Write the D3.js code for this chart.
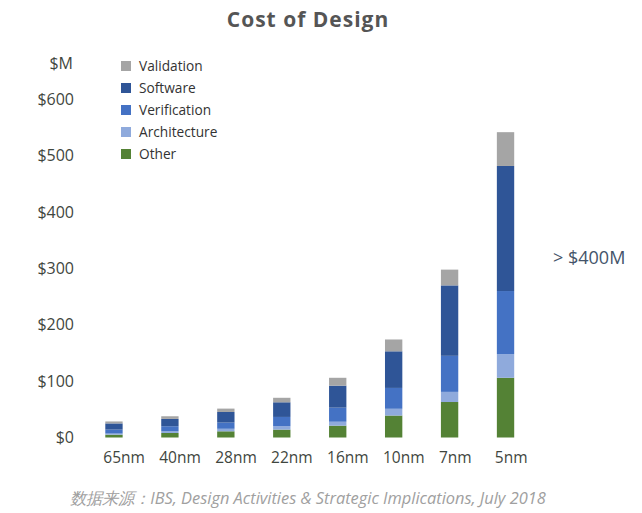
<!DOCTYPE html>
<html>
<head>
<meta charset="utf-8">
<script src="https://cdn.jsdelivr.net/npm/d3@7"></script>
<style>
  body { margin: 0; background: #fff; }
  svg text { font-family: "Open Sans", "Noto Sans", sans-serif; }
</style>
</head>
<body>
<svg id="chart" width="642" height="513"></svg>
<script>
// data ($M per node)
var nodes = ["65nm", "40nm", "28nm", "22nm", "16nm", "10nm", "7nm", "5nm"];
var other        = [5,   8,   11,   14,   21,  39,  63,  106];
var architecture = [2,   3,   4.5,  6,    7,   12,  18,  42];
var verification = [7,   9,   11,   16.5, 25,  37,  64,  112];
var software     = [11,  13,  18.8, 26,   39,  65,  125, 222];
var validation   = [3.5, 4.7, 6,    8,    14,  21,  28,  60];
var yTicks = [0, 100, 200, 300, 400, 500, 600];

var keys = ["Other", "Architecture", "Verification", "Software", "Validation"];
var colors = {
  "Other": "#548235",
  "Architecture": "#8faadc",
  "Verification": "#4472c4",
  "Software": "#2f5597",
  "Validation": "#a5a5a5"
};

var rows = nodes.map((n, i) => ({
  node: n,
  "Other": other[i],
  "Architecture": architecture[i],
  "Verification": verification[i],
  "Software": software[i],
  "Validation": validation[i]
}));

var svg = d3.select("#chart");

var x = d3.scaleBand()
  .domain(nodes)
  .range([86, 533.5])
  .paddingInner(0.69)
  .paddingOuter(0.345);

var y = d3.scaleLinear()
  .domain([0, 600])
  .range([437.5, 99.5]);

var stacked = d3.stack().keys(keys)(rows);

svg.append("g")
  .selectAll("g")
  .data(stacked)
  .enter()
  .append("g")
  .attr("fill", d => colors[d.key])
  .selectAll("rect")
  .data(d => d)
  .enter()
  .append("rect")
  .attr("x", d => x(d.data.node))
  .attr("width", x.bandwidth())
  .attr("y", d => y(d[1]))
  .attr("height", d => y(d[0]) - y(d[1]));

// y axis, labels only
var yAxis = svg.append("g")
  .attr("transform", "translate(74,0)")
  .call(d3.axisLeft(y).tickValues(yTicks).tickSize(0).tickPadding(0).tickFormat(d => "$" + d));
yAxis.select(".domain").remove();
yAxis.selectAll("text")
  .attr("font-size", 16)
  .attr("fill", "#3f463e")
  .style("font-family", "'Open Sans', sans-serif");

svg.append("text")
  .attr("x", 73).attr("y", 69)
  .attr("text-anchor", "end")
  .attr("font-size", 16)
  .attr("fill", "#3f463e")
  .text("$M");

// x axis, labels only; they sit from the bar's left edge
var xAxis = svg.append("g")
  .attr("transform", "translate(0,452)")
  .call(d3.axisBottom(x).tickSize(0).tickPadding(0));
xAxis.select(".domain").remove();
xAxis.selectAll(".tick")
  .attr("transform", d => "translate(" + (x(d) - 2) + ",0)");
xAxis.selectAll("text")
  .attr("text-anchor", "start")
  .attr("font-size", 15.5)
  .attr("fill", "#3f463e")
  .style("font-family", "'Open Sans', sans-serif");

// title
svg.append("text")
  .attr("x", 308).attr("y", 27)
  .attr("text-anchor", "middle")
  .attr("font-size", 21)
  .attr("font-weight", "bold")
  .attr("letter-spacing", 1)
  .attr("fill", "#555")
  .text("Cost of Design");

// legend
var legendKeys = ["Validation", "Software", "Verification", "Architecture", "Other"];
var legend = svg.append("g")
  .selectAll("g")
  .data(legendKeys)
  .enter()
  .append("g")
  .attr("transform", (d, i) => "translate(121," + (66 + i * 22) + ")");
legend.append("rect")
  .attr("x", 0).attr("y", -5)
  .attr("width", 10).attr("height", 10)
  .attr("fill", d => colors[d]);
legend.append("text")
  .attr("x", 18).attr("y", 5)
  .attr("font-size", 13.7)
  .attr("fill", "#333")
  .text(d => d);

// annotation
svg.append("text")
  .attr("x", 553).attr("y", 264)
  .attr("font-size", 18)
  .attr("fill", "#44546a")
  .text("> $400M");

// source
svg.append("text")
  .attr("x", 308).attr("y", 504)
  .attr("text-anchor", "middle")
  .attr("font-size", 16.4)
  .attr("font-style", "italic")
  .attr("fill", "#a0a0a0")
  .text("数据来源：IBS, Design Activities & Strategic Implications, July 2018");
</script>
</body>
</html>
